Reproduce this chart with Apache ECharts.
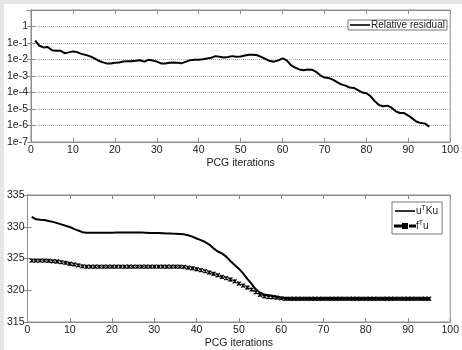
<!DOCTYPE html>
<html>
<head>
<meta charset="utf-8">
<script src="https://cdn.jsdelivr.net/npm/echarts@6/dist/echarts.min.js"></script>
<style>
  html, body { margin: 0; padding: 0; background: #e6e6e6; }
  #chart { position: absolute; left: 4px; top: 4px; width: 458px; height: 346px; background: #fff; }
</style>
</head>
<body>
<div id="chart"></div>
<script>
// relative residual per PCG iteration (1..95)
const residual = [
  0.14, 0.068, 0.054, 0.058, 0.036, 0.034, 0.034, 0.024, 0.027, 0.031,
  0.028, 0.022, 0.019, 0.016, 0.012, 0.0087, 0.0069, 0.0058, 0.0058, 0.0063,
  0.0066, 0.0076, 0.0079, 0.0079, 0.0083, 0.009, 0.0074, 0.0096, 0.0088, 0.0074,
  0.0058, 0.0058, 0.0063, 0.0066, 0.0063, 0.006, 0.0074, 0.0091, 0.0096, 0.0096,
  0.0105, 0.0115, 0.0127, 0.016, 0.0146, 0.0134, 0.014, 0.016, 0.0146, 0.0154,
  0.0176, 0.0194, 0.0194, 0.018, 0.014, 0.0105, 0.008, 0.0074, 0.0088, 0.0116,
  0.0088, 0.0046, 0.0032, 0.0025, 0.0022, 0.0025, 0.0024, 0.0018, 0.0011, 0.0008,
  0.00076, 0.0006, 0.00043, 0.00031, 0.00026, 0.0002, 0.00019, 0.00014, 0.0001, 0.00009,
  0.000059, 0.00003, 0.0000175, 0.0000145, 0.000016, 0.000012, 0.0000072, 0.0000057, 0.0000057, 0.000004,
  0.0000026, 0.0000017, 0.0000014, 0.0000013, 0.00000085
]

// u^T K u
const uKu = [
  331.57, 331.17, 331.1, 331.07, 330.9, 330.77, 330.57, 330.37, 330.16, 329.96,
  329.66, 329.4, 329.15, 329.05, 329.05, 329.05, 329.05, 329.05, 329.06, 329.07,
  329.08, 329.09, 329.1, 329.1, 329.1, 329.1, 329.08, 329.05, 329.02, 329.0,
  329.0, 328.98, 328.95, 328.92, 328.9, 328.85, 328.8, 328.65, 328.45, 328.15,
  327.9, 327.6, 327.2, 326.6, 326.1, 325.8, 325.3, 324.6, 323.97, 323.4,
  322.66, 321.8, 321.0, 320.14, 319.6, 319.33, 319.23, 319.13, 318.98, 318.83,
  318.73, 318.68, 318.66, 318.66, 318.66, 318.66, 318.66, 318.66, 318.66, 318.66,
  318.66, 318.66, 318.66, 318.66, 318.66, 318.66, 318.66, 318.66, 318.66, 318.66,
  318.66, 318.66, 318.66, 318.66, 318.66, 318.66, 318.66, 318.66, 318.66, 318.66,
  318.66, 318.66, 318.66, 318.66, 318.66
]

// f^T u
const fu = [
  324.67, 324.67, 324.67, 324.67, 324.65, 324.57, 324.52, 324.42, 324.32, 324.17,
  324.07, 323.92, 323.77, 323.72, 323.72, 323.72, 323.72, 323.72, 323.72, 323.72,
  323.72, 323.72, 323.72, 323.72, 323.72, 323.72, 323.72, 323.72, 323.72, 323.72,
  323.72, 323.72, 323.72, 323.72, 323.72, 323.72, 323.67, 323.56, 323.46, 323.31,
  323.16, 323.0, 322.8, 322.6, 322.36, 322.1, 321.9, 321.7, 321.4, 321.05,
  320.74, 320.44, 320.1, 319.7, 319.28, 319.03, 318.93, 318.88, 318.83, 318.73,
  318.66, 318.66, 318.66, 318.66, 318.66, 318.66, 318.66, 318.66, 318.66, 318.66,
  318.66, 318.66, 318.66, 318.66, 318.66, 318.66, 318.66, 318.66, 318.66, 318.66,
  318.66, 318.66, 318.66, 318.66, 318.66, 318.66, 318.66, 318.66, 318.66, 318.66,
  318.66, 318.66, 318.66, 318.66, 318.66
]

const FONT = 'Liberation Sans, Arial, sans-serif'
const AX = '#8c8c8c'
const TXT = '#1a1a1a'
const AXFS = 10.5
const LGFS = 10

// legend glyphs (20 x 10 box): solid line, dotted line with a centre dot
const solidIcon = 'path://M0,4.2L20,4.2L20,5.8L0,5.8Z'
const dottedIcon =
  'path://M0,4.5h1v1h-1zM2.5,4.5h1v1h-1zM5,4.5h1v1h-1zM15,4.5h1v1h-1zM17.5,4.5h1v1h-1zM19,4.5h1v1h-1z' +
  'M8,3h4v4h-4z'

const withIter = (arr) => arr.map((v, i) => [i + 1, v])

function xAxes(gridIndex) {
  const base = {
    gridIndex,
    type: 'value',
    min: 0,
    max: 100,
    interval: 10,
    axisLine: { show: true, lineStyle: { color: AX } },
    axisTick: { show: true, inside: true, length: 4, lineStyle: { color: AX } },
    splitLine: { show: false },
  }
  return [
    {
      ...base,
      position: 'bottom',
      name: 'PCG iterations',
      nameLocation: 'middle',
      nameGap: 16,
      nameTextStyle: { color: TXT, fontSize: AXFS, fontFamily: FONT },
      axisLabel: { color: TXT, fontSize: AXFS, fontFamily: FONT, margin: 3 },
    },
    { ...base, position: 'top', axisLabel: { show: false } },
  ]
}

function rightAxis(gridIndex, extra) {
  return {
    gridIndex,
    position: 'right',
    axisLine: { show: true, lineStyle: { color: AX } },
    axisTick: { show: true, inside: true, length: 4, lineStyle: { color: AX } },
    splitLine: { show: false },
    axisLabel: { show: false },
    ...extra,
  }
}

const chart = echarts.init(document.getElementById('chart'), null, { renderer: 'canvas' })

const legendBase = {
  orient: 'vertical',
  backgroundColor: '#fff',
  borderColor: '#777',
  borderWidth: 1,
  itemWidth: 20,
  itemHeight: 10,
  textStyle: { color: TXT, fontSize: LGFS, fontFamily: FONT, padding: [0, 0, 0, -4] },
}

chart.setOption({
  animation: false,
  backgroundColor: '#fff',
  grid: [
    { left: 21, right: 9, top: 6, height: 132, show: true, borderColor: AX, borderWidth: 1 },
    { left: 21, right: 9, top: 191, bottom: 23, show: true, borderColor: AX, borderWidth: 1 },
  ],
  xAxis: [...xAxes(0), ...xAxes(1)],
  yAxis: [
    {
      gridIndex: 0,
      type: 'log',
      logBase: 10,
      min: 1e-7,
      max: 10,
      interval: 1,
      axisLine: { show: true, lineStyle: { color: AX } },
      axisTick: { show: true, inside: true, length: 4, lineStyle: { color: AX } },
      splitLine: { show: true, lineStyle: { color: '#b0b0b0', type: 'dotted', width: 1 } },
      axisLabel: {
        color: TXT,
        fontSize: AXFS,
        fontFamily: FONT,
        margin: 3,
        formatter: (v) => {
          const e = Math.round(Math.log10(v))
          if (e > 0) return ''
          return e === 0 ? '1' : `1e${e}`
        },
      },
    },
    rightAxis(0, { type: 'log', logBase: 10, min: 1e-7, max: 10, interval: 1 }),
    {
      gridIndex: 1,
      type: 'value',
      min: 315,
      max: 335,
      interval: 5,
      axisLine: { show: true, lineStyle: { color: AX } },
      axisTick: { show: true, inside: true, length: 4, lineStyle: { color: AX } },
      splitLine: { show: false },
      axisLabel: { color: TXT, fontSize: AXFS, fontFamily: FONT, margin: 3 },
    },
    rightAxis(1, { type: 'value', min: 315, max: 335, interval: 5 }),
  ],
  legend: [
    {
      ...legendBase,
      data: [{ name: 'Relative residual', icon: solidIcon }],
      left: 344,
      top: 16,
      padding: [0, 2, 0, 2],
    },
    {
      ...legendBase,
      data: [
        { name: 'uKu', icon: solidIcon },
        { name: 'fu', icon: dottedIcon },
      ],
      left: 388,
      top: 198,
      padding: [3, 4, 3, 2],
      itemGap: 4,
      formatter: (name) => (name === 'uKu' ? '{n|u}{s|T}{n|Ku}' : '{n|f}{s|T}{n|u}'),
      textStyle: {
        ...legendBase.textStyle,
        rich: {
          n: { color: TXT, fontSize: LGFS, fontFamily: FONT },
          s: { color: TXT, fontSize: 7, fontFamily: FONT, verticalAlign: 'top', padding: [0, 0, 5, 0] },
        },
      },
    },
  ],
  series: [
    {
      name: 'Relative residual',
      type: 'line',
      xAxisIndex: 0,
      yAxisIndex: 0,
      symbol: 'none',
      data: withIter(residual),
      lineStyle: { color: '#000', width: 2 },
      itemStyle: { color: '#000' },
    },
    {
      name: 'uKu',
      type: 'line',
      xAxisIndex: 2,
      yAxisIndex: 2,
      symbol: 'none',
      data: withIter(uKu),
      lineStyle: { color: '#000', width: 2 },
      itemStyle: { color: '#000' },
    },
    {
      name: 'fu',
      type: 'line',
      xAxisIndex: 2,
      yAxisIndex: 2,
      symbol: 'path://M0,0L10,10M10,0L0,10M5,0L5,10',
      symbolSize: 4,
      showSymbol: true,
      data: withIter(fu),
      lineStyle: { color: '#000', width: 1, type: 'dotted' },
      itemStyle: { color: '#000', borderColor: '#000', borderWidth: 1.2 },
    },
  ],
})
</script>
</body>
</html>
